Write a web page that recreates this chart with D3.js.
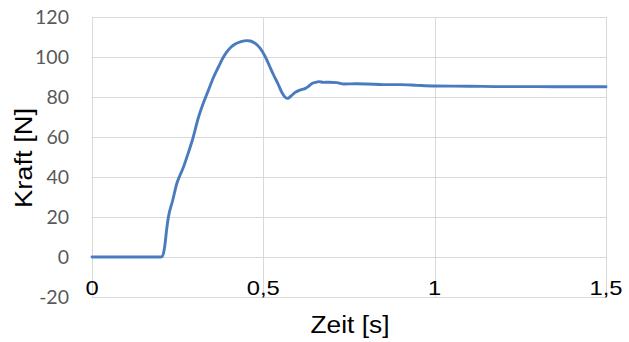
<!DOCTYPE html>
<html><head><meta charset="utf-8">
<script src="https://cdn.jsdelivr.net/npm/d3@7"></script>
<style>html,body{margin:0;padding:0;background:#fff;}svg{display:block;}</style>
</head><body>
<svg id="chart" width="629" height="342"></svg>
<script>
const time = [0, 0.1, 0.2, 0.205, 0.212, 0.218, 0.223, 0.235, 0.248, 0.257, 0.267, 0.277, 0.293, 0.311, 0.325, 0.340, 0.355, 0.369, 0.382, 0.394, 0.406, 0.418, 0.435, 0.452, 0.462, 0.472, 0.482, 0.491, 0.506, 0.518, 0.530, 0.543, 0.555, 0.563, 0.569, 0.576, 0.584, 0.593, 0.603, 0.613, 0.623, 0.633, 0.642, 0.652, 0.662, 0.676, 0.69, 0.715, 0.735, 0.77, 0.803, 0.85, 0.9, 0.95, 1.0, 1.1, 1.2, 1.3, 1.4, 1.5];
const force = [0, 0, 0, 0.3, 5, 14, 20, 28, 37, 41, 45, 50, 58.5, 70, 77, 83.5, 90, 95, 99.5, 102.7, 105, 106.5, 107.7, 108.2, 108, 107.2, 106, 104.3, 100, 95.5, 91, 86.5, 82, 80, 79.3, 79.8, 81, 82.3, 83.2, 83.8, 84.3, 85.5, 86.8, 87.3, 87.7, 87.3, 87.4, 87.2, 86.5, 86.6, 86.5, 86.2, 86.2, 85.8, 85.5, 85.4, 85.2, 85.2, 85.1, 85.1];
const xTicks = [0, 0.5, 1, 1.5];
const xTickLabels = ["0", "0,5", "1", "1,5"];
const yTicks = [-20, 0, 20, 40, 60, 80, 100, 120];
const xTitle = "Zeit [s]";
const yTitle = "Kraft [N]";

const svg = d3.select("#chart");
const x = d3.scaleLinear().domain([0, 1.5]).range([92, 606]);
const y = d3.scaleLinear().domain([-20, 120]).range([297, 17]);

// gridlines
svg.append("g").selectAll("line").data(yTicks).join("line")
  .attr("x1", x(0)).attr("x2", x(1.5))
  .attr("y1", d => Math.round(y(d)) + 0.5).attr("y2", d => Math.round(y(d)) + 0.5)
  .attr("stroke", "#d9d9d9").attr("stroke-width", 1);
svg.append("g").selectAll("line").data(xTicks).join("line")
  .attr("x1", d => Math.round(x(d)) + 0.5).attr("x2", d => Math.round(x(d)) + 0.5)
  .attr("y1", y(120)).attr("y2", y(-20))
  .attr("stroke", "#d9d9d9").attr("stroke-width", 1);

// y tick labels
svg.append("g").selectAll("text").data(yTicks).join("text")
  .attr("x", 69).attr("y", d => y(d) + 7)
  .attr("text-anchor", "end")
  .attr("font-family", "Lato, 'Open Sans', sans-serif")
  .attr("font-size", 19.5).attr("fill", "#595959")
  .text(d => d);

// x tick labels
const xl = svg.append("g").selectAll("text").data(xTicks).join("text")
  .attr("x", d => x(d)).attr("y", 295)
  .attr("text-anchor", "middle")
  .attr("font-family", "'Liberation Sans', Arial, sans-serif")
  .attr("font-size", 21).attr("fill", "#000")
  .text((d, i) => xTickLabels[i]);
xl.each(function() {
  const w = this.getComputedTextLength();
  d3.select(this).attr("textLength", w * 1.13).attr("lengthAdjust", "spacingAndGlyphs");
});

// line
const data = time.map((t, i) => [t, force[i]]);
svg.append("path").datum(data)
  .attr("fill", "none").attr("stroke", "#4a7bbf").attr("stroke-width", 2.9)
  .attr("stroke-linejoin", "round").attr("stroke-linecap", "round")
  .attr("d", d3.line().x(d => x(d[0])).y(d => y(d[1])).curve(d3.curveMonotoneX));

// axis titles
svg.append("text").attr("x", 350).attr("y", 333).attr("text-anchor", "middle")
  .attr("font-family", "'Liberation Sans', Arial, sans-serif").attr("font-size", 23)
  .attr("textLength", 79).attr("lengthAdjust", "spacingAndGlyphs")
  .text(xTitle);
svg.append("text").attr("transform", "translate(32,158) rotate(-90)").attr("text-anchor", "middle")
  .attr("font-family", "'Liberation Sans', Arial, sans-serif").attr("font-size", 23)
  .attr("textLength", 100).attr("lengthAdjust", "spacingAndGlyphs")
  .text(yTitle);
</script>
</body></html>
